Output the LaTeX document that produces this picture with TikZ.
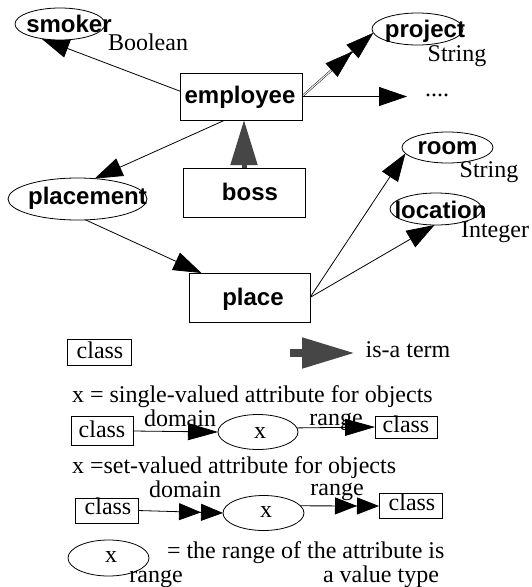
\documentclass[tikz,border=0pt]{standalone}
\usepackage{fontspec}
\setmainfont{Liberation Serif}
\newfontfamily\hvfont{Liberation Sans}
\usetikzlibrary{arrows.meta,shapes.geometric,backgrounds}
\definecolor{isagray}{RGB}{70,70,70}
\begin{document}
\begin{tikzpicture}[
  x=1pt, y=-1pt,
  every node/.style={inner sep=0pt, outer sep=0pt},
  every label/.style={text height=16pt, text depth=0pt},
  serif/.style={font=\fontsize{24}{26}\selectfont},
  bold/.style={font=\fontsize{24}{26}\selectfont\hvfont\bfseries},
  classbox/.style={draw, line width=0.8pt, fill=white},
  attr/.style={draw, ellipse, line width=0.8pt, fill=white},
  conn/.style={line width=0.8pt, -{Triangle[length=28pt,width=19pt]}},
  setconn/.style={double, double distance=1pt, line width=0.5pt, -{Triangle[length=28pt,width=18pt] Triangle[length=28pt,width=18pt]}},
  conntwo/.style={line width=0.8pt, -{Triangle[length=30pt,width=17pt]}},
  setconntwo/.style={line width=0.8pt, -{Triangle[length=22pt,width=17pt] Triangle[length=22pt,width=17pt]}},
  isa/.style={draw=isagray, line width=5pt, -{Triangle[length=45pt,width=26pt]}, isagray},
  isatwo/.style={draw=isagray, line width=8pt, -{Triangle[length=53pt,width=29pt]}, isagray},
]
\useasboundingbox (0,0) rectangle (531,587);

% ---------- main diagram ----------
\node[attr, minimum width=90pt, minimum height=32pt,
  label={[bold,xshift=9pt,yshift=0pt]center:smoker}] (smoker) at (60,24) {};
\node[serif, anchor=base] (boolean) at (148,50) {Boolean};

\node[classbox, minimum width=122pt, minimum height=47pt,
  label={[bold,xshift=-1pt,yshift=1.5pt]center:employee}] (employee) at (241,96.5) {};

\node[attr, minimum width=91pt, minimum height=32pt,
  label={[bold,xshift=7.5pt,yshift=0pt]center:project}] (project) at (417.5,29) {};
\node[serif, anchor=base] (str1) at (457,61) {String};

\node[serif, anchor=base] (dots) at (437,96) {....};
\coordinate (dotsend) at (407,96.5);

\node[attr, minimum width=91pt, minimum height=31pt,
  label={[bold,yshift=1.5pt]center:room}] (room) at (447.5,147.5) {};
\node[serif, anchor=base] (str2) at (489,177) {String};

\node[attr, minimum width=92pt, minimum height=32pt,
  label={[bold,xshift=4.5pt,yshift=-1pt]center:location}] (location) at (436,209) {};
\node[serif, anchor=base] (integer) at (495,237) {Integer};

\node[attr, minimum width=139pt, minimum height=42pt,
  label={[bold,xshift=10pt,yshift=3pt]center:placement}] (placement) at (77.5,199) {};

\node[classbox, minimum width=122pt, minimum height=49pt,
  label={[bold,xshift=6pt,yshift=0.5pt]center:boss}] (boss) at (244,192.5) {};

\node[classbox, minimum width=121pt, minimum height=49pt,
  label={[bold,xshift=3.5pt,yshift=0.5pt]center:place}] (place) at (249.5,297.5) {};

\begin{scope}[on background layer]
  \draw[conn] (employee.175) -- (smoker.218);
  \draw[setconn] (employee.east) -- (project.185);
  \draw[conn] (employee.east) -- (dotsend);
  \draw[conn] (employee.236) -- (placement.50);
  \draw[conn] (placement.291) -- (place.153);
  \draw[conn] (place.east) -- (room.188);
  \draw[conn] (place.east) -- (location.265);
\end{scope}
\draw[isa] (boss.north) -- (boss.north |- employee.south);

% ---------- legend ----------
\node[classbox, minimum width=64pt, minimum height=26pt,
  label={[serif,xshift=1pt,yshift=2pt]center:class}] (lc0) at (99,352) {};
\coordinate (isaA) at (290,353);
\coordinate (isaB) at (355,353);
\draw[isatwo] (isaA) -- (isaB);
\node[serif, anchor=base] (isaterm) at (408,357) {is-a term};

\node[serif, anchor=base west] (line1) at (72,402) {x = single-valued attribute for objects};
\node[classbox, minimum width=62pt, minimum height=29pt,
  label={[serif,yshift=2pt]center:class}] (c1) at (102,431) {};
\node[attr, minimum width=80pt, minimum height=35pt,
  label={[serif,xshift=2pt,yshift=2pt]center:x}] (x1) at (258,432) {};
\node[classbox, minimum width=62pt, minimum height=22pt,
  label={[serif,yshift=3pt]center:class}] (c2) at (406,427) {};
\node[serif, anchor=base] (dom1) at (180,426) {domain};
\node[serif, anchor=base] (ran1) at (336,425) {range};
\draw[conntwo] (c1.east) -- (x1.west);
\draw[conntwo] (x1.6) -- (c2.west);

\node[serif, anchor=base west] (line2) at (72,473) {x =set-valued attribute for objects};
\node[classbox, minimum width=63pt, minimum height=25pt,
  label={[serif,xshift=1.5pt,yshift=4.5pt]center:class}] (c3) at (106.5,510.5) {};
\node[attr, minimum width=81pt, minimum height=35pt,
  label={[serif,xshift=2.5pt,yshift=4pt]center:x}] (x2) at (263.5,513) {};
\node[classbox, minimum width=63pt, minimum height=25pt,
  label={[serif,xshift=1.5pt,yshift=4pt]center:class}] (c4) at (410.5,506) {};
\node[serif, anchor=base] (dom2) at (185,497) {domain};
\node[serif, anchor=base] (ran2) at (337,495) {range};
\draw[setconntwo] (c3.east) -- (x2.west);
\draw[setconntwo] (x2.11) -- (c4.west);

\node[attr, minimum width=81pt, minimum height=36pt,
  label={[serif,xshift=2.5pt,yshift=4pt]center:x}] (x3) at (108.5,558) {};
\node[serif, anchor=base] (ran3) at (156,582) {range};
\node[serif, anchor=base west] (line3) at (167,558) {= the range of the attribute is};
\node[serif, anchor=base west] (line4) at (323,582) {a value type};
\end{tikzpicture}
\end{document}
